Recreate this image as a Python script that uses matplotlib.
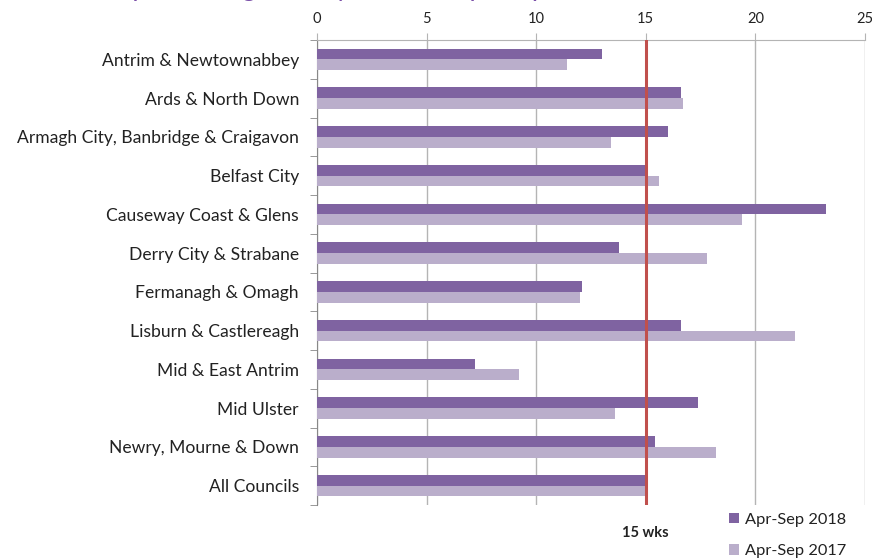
import matplotlib
matplotlib.use('Agg')
import matplotlib.pyplot as plt
import numpy as np

# Dữ liệu: thời gian xử lý (tuần) theo hội đồng
councils = [
    "Antrim & Newtownabbey",
    "Ards & North Down",
    "Armagh City, Banbridge & Craigavon",
    "Belfast City",
    "Causeway Coast & Glens",
    "Derry City & Strabane",
    "Fermanagh & Omagh",
    "Lisburn & Castlereagh",
    "Mid & East Antrim",
    "Mid Ulster",
    "Newry, Mourne & Down",
    "All Councils",
]
wks_2018 = [13.0, 16.6, 16.0, 15.0, 23.2, 13.8, 12.1, 16.6, 7.2, 17.4, 15.4, 15.0]
wks_2017 = [11.4, 16.7, 13.4, 15.6, 19.4, 17.8, 12.0, 21.8, 9.2, 13.6, 18.2, 15.0]
series_labels = ["Apr-Sep 2018", "Apr-Sep 2017"]
x_ticks = [0, 5, 10, 15, 20, 25]
target = 15
target_label = "15 wks"
title = "Local processing time by council, Apr-Sep 2018"

plt.rcParams['font.family'] = ['Lato', 'DejaVu Sans']

DARK = '#7F63A1'
LIGHT = '#BAAECB'
RED = '#C0504D'
GRID = '#B4B4B4'
TEXT = '#222222'

fig = plt.figure(figsize=(8.72, 5.58), dpi=100)
ax = fig.add_axes([317 / 872, 1 - 505 / 558, (865 - 317) / 872, (505 - 40) / 558])

y = np.arange(len(councils))
h = 0.275
ax.barh(y - h / 2, wks_2018, height=h, color=DARK, label=series_labels[0], zorder=3)
ax.barh(y + h / 2, wks_2017, height=h, color=LIGHT, label=series_labels[1], zorder=3)

ax.axvline(target, color=RED, lw=2.2, zorder=4)

ax.set_xlim(0, 25)
ax.set_ylim(len(councils) - 0.5, -0.5)

ax.xaxis.tick_top()
ax.set_xticks(x_ticks)
ax.tick_params(axis='x', length=5, color=GRID, labelsize=10.5, labelcolor=TEXT, pad=5)
ax.grid(axis='x', color=GRID, lw=1, zorder=0)

ax.set_yticks(y)
ax.set_yticklabels(councils)
ax.set_yticks(np.arange(len(councils) + 1) - 0.5, minor=True)
ax.tick_params(axis='y', which='major', length=0, labelsize=12.6, labelcolor=TEXT, pad=13)
ax.tick_params(axis='y', which='minor', length=5, color='#888888')

for side in ['right', 'bottom']:
    ax.spines[side].set_visible(False)
ax.spines['top'].set_color(GRID)
ax.spines['left'].set_color('#888888')

# nhãn mốc 15 tuần
ax.annotate(target_label, xy=(target, 0), xycoords=('data', 'axes fraction'),
            xytext=(0, -20), textcoords='offset points', ha='center', va='center',
            fontsize=10.5, fontweight='bold', color=TEXT)

fig.legend(loc='upper left', bbox_to_anchor=(729 / 872, 1 - 513 / 558),
           frameon=False, borderpad=0, borderaxespad=0, handlelength=0.6,
           handleheight=0.6, handletextpad=0.35, labelspacing=1.05,
           fontsize=11.8, labelcolor=TEXT)

# tiêu đề bị cắt ở mép trên
fig.text(65 / 872, 1 + 4 / 558, title, fontsize=19, color='#7A4FA8', va='baseline')

fig.savefig('out.png', dpi=100)
